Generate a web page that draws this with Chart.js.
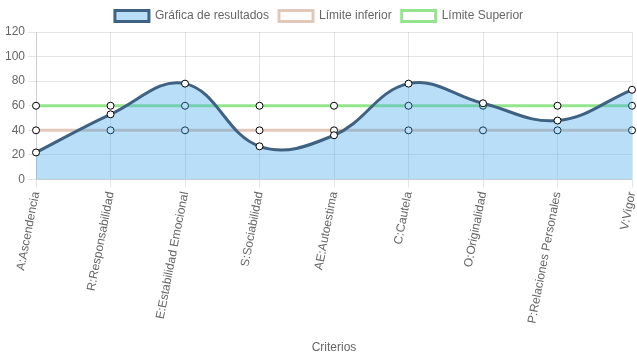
<!DOCTYPE html>
<html><head><meta charset="utf-8">
<script src="https://cdn.jsdelivr.net/npm/chart.js@4/dist/chart.umd.min.js"></script>
<style>html,body{margin:0;padding:0;background:#fff}#w{width:637px;height:359px}</style>
</head><body><div id="w"><canvas id="c"></canvas></div>
<script>
const categories = ["A:Ascendencia","R:Responsabilidad","E:Estabilidad Emocional","S:Sociabilidad","AE:Autoestima","C:Cautela","O:Originalidad","P:Relaciones Personales","V:Vigor"];
const resultados = [22,53,78,27,36,78,62,48,73];
const limiteInferior = [40,40,40,40,40,40,40,40,40];
const limiteSuperior = [60,60,60,60,60,60,60,60,60];
const yTicks = [0,20,40,60,80,100,120];

Chart.defaults.font.family = "'Liberation Sans', Arial, sans-serif";
Chart.defaults.font.size = 12;
Chart.defaults.color = '#666';

new Chart(document.getElementById('c'), {
  type: 'line',
  data: {
    labels: categories,
    datasets: [
      {label:'Gráfica de resultados', data: resultados, borderColor:'#3f6182', backgroundColor:'rgba(54,162,235,0.35)', fill:true, tension:0.4, borderWidth:3, pointBackgroundColor:'#fff', pointBorderColor:'#000', pointBorderWidth:1, pointRadius:3.5, clip:false},
      {label:'Límite inferior', data: limiteInferior, borderColor:'#e3c7b8', backgroundColor:'#fff', fill:false, borderWidth:3, pointBackgroundColor:'#fff', pointBorderColor:'#000', pointBorderWidth:1, pointRadius:3.5, clip:false},
      {label:'Límite Superior', data: limiteSuperior, borderColor:'#94e68d', backgroundColor:'#fff', fill:false, borderWidth:3, pointBackgroundColor:'#fff', pointBorderColor:'#000', pointBorderWidth:1, pointRadius:3.5, clip:false}
    ]
  },
  options: {
    responsive:true, maintainAspectRatio:false, animation:false,
    layout:{padding:{left:2,right:1,top:0,bottom:0}},
    plugins:{
      legend:{position:'top', labels:{boxWidth:34, boxHeight:11, padding:10, color:'#666'}},
      tooltip:{enabled:false}
    },
    scales:{
      x:{
        title:{display:true, text:'Criterios', color:'#666', padding:{top:16,bottom:4}},
        grid:{color:'rgba(0,0,0,0.1)', drawTicks:true, tickLength:8},
        ticks:{color:'#666', autoSkip:false, maxRotation:79, minRotation:79},
        afterFit: s => { s.paddingRight = 0; s.paddingLeft = Math.min(s.paddingLeft, 4); }
      },
      y:{
        min:0, max:120,
        afterBuildTicks: ax => { ax.ticks = yTicks.map(v=>({value:v})); },
        grid:{color:'rgba(0,0,0,0.1)', tickLength:8},
        ticks:{color:'#666'}
      }
    }
  }
});
</script></body></html>
